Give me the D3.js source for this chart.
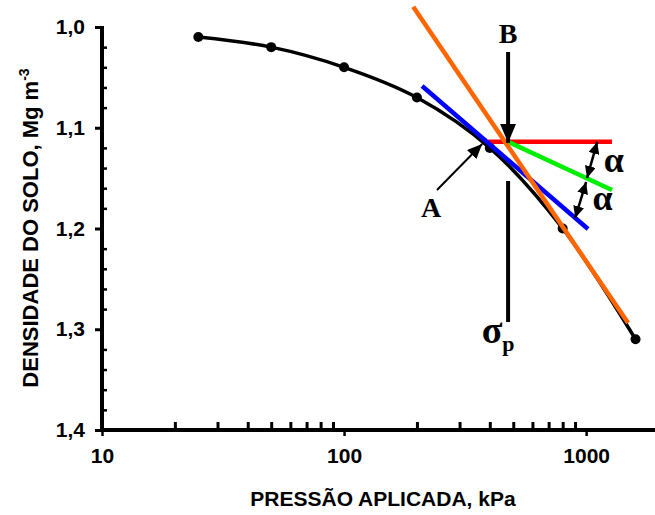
<!DOCTYPE html>
<html>
<head>
<meta charset="utf-8">
<script src="https://cdn.jsdelivr.net/npm/d3@7"></script>
<style>
  html, body { margin: 0; padding: 0; background: #fff; }
  svg { display: block; }
</style>
</head>
<body>
<svg id="chart" width="655" height="515"></svg>
<script>
// ---- data ----
const pressure = [25, 50, 100, 200, 400, 800, 1600];           // kPa
const density  = [1.01, 1.02, 1.04, 1.07, 1.12, 1.20, 1.31];    // Mg m-3
const xTickValues = [10, 100, 1000];
const xTickLabels = ["10", "100", "1000"];
const yTickValues = [1.0, 1.1, 1.2, 1.3, 1.4];
const yTickLabels = ["1,0", "1,1", "1,2", "1,3", "1,4"];
const sigmaP = 476;
const blueLine   = [[210, 1.0586], [1018, 1.2005]];
const orangeLine = [[193, 0.980], [1491, 1.2938]];
const redLine    = [[394, 1.114], [1279, 1.114]];
const greenLine  = [[476, 1.114], [1279, 1.1618]];
const bArrow     = [[476, 1.0248], [476, 1.115]];
const sigmaLine  = [[476, 1.1529], [476, 1.2928]];
const aArrow     = [[242, 1.1618], [372, 1.1161]];
const alpha1     = [[1111, 1.1141], [1009, 1.1499]];
const alpha2     = [[1000, 1.1538], [901, 1.1896]];
const labelB     = [476, 1.0159];
const labelA     = [229, 1.1886];
const labelSigma = [433, 1.3136];
const labelAlpha = [[1300, 1.1439], [1170, 1.1816]];

// ---- scales ----
const svg = d3.select("#chart");
const x = d3.scaleLog().domain([10, 2000]).range([102, 659]);
const y = d3.scaleLinear().domain([1.0, 1.4]).range([27, 430]);

const sans = "'Liberation Sans', Arial, sans-serif";
const serif = "'Liberation Serif', 'Times New Roman', serif";

// markers
const defs = svg.append("defs");
function marker(id, len, half) {
  defs.append("marker")
    .attr("id", id).attr("markerUnits", "userSpaceOnUse")
    .attr("viewBox", `0 ${-half} ${len} ${2*half}`)
    .attr("refX", len).attr("refY", 0)
    .attr("markerWidth", len).attr("markerHeight", 2*half)
    .attr("orient", "auto-start-reverse")
    .append("path").attr("d", `M0,${-half}L${len},0L0,${half}Z`).attr("fill", "#000");
}
marker("headB", 19, 8);
marker("headA", 15, 6.5);
marker("headAl", 12, 5.5);

// ---- axes ----
const xAxisMajor = d3.axisBottom(x).tickValues(xTickValues)
  .tickFormat((d, i) => xTickLabels[i]).tickSize(6).tickSizeOuter(0).tickPadding(12);
const minorX = [];
for (let dec = 10; dec < 1000; dec *= 10) for (let k = 2; k <= 9; k++) minorX.push(dec * k);
const gx = svg.append("g").attr("transform", `translate(0,${y(1.4)})`).call(xAxisMajor);
gx.select(".domain").remove();
gx.selectAll(".tick line").attr("stroke", "#000").attr("stroke-width", 2.5);
gx.selectAll(".tick text").attr("font-family", sans).attr("font-weight", "bold")
  .attr("font-size", 21).attr("fill", "#000");
const gxMinor = svg.append("g").attr("transform", `translate(0,${y(1.4)})`)
  .call(d3.axisTop(x).tickValues(minorX).tickFormat("").tickSize(8).tickSizeOuter(0));
gxMinor.select(".domain").remove();
gxMinor.selectAll(".tick line").attr("stroke", "#000").attr("stroke-width", 3);

const yAxisMajor = d3.axisLeft(y).tickValues(yTickValues)
  .tickFormat((d, i) => yTickLabels[i]).tickSize(7).tickSizeOuter(0).tickPadding(10);
const gy = svg.append("g").attr("transform", `translate(${x(10)},0)`).call(yAxisMajor);
gy.select(".domain").remove();
gy.selectAll(".tick line").attr("stroke", "#000").attr("stroke-width", 3);
gy.selectAll(".tick text").attr("font-family", sans).attr("font-weight", "bold")
  .attr("font-size", 21).attr("fill", "#000");
const minorY = d3.range(1.02, 1.4, 0.02).filter(v => Math.abs(v*10 - Math.round(v*10)) > 1e-6);
const gyMinor = svg.append("g").attr("transform", `translate(${x(10)},0)`)
  .call(d3.axisRight(y).tickValues(minorY).tickFormat("").tickSize(5).tickSizeOuter(0));
gyMinor.select(".domain").remove();
gyMinor.selectAll(".tick line").attr("stroke", "#000").attr("stroke-width", 2.5);

// axis lines
svg.append("line").attr("x1", x(10) - 2).attr("x2", 655).attr("y1", y(1.4)).attr("y2", y(1.4))
  .attr("stroke", "#000").attr("stroke-width", 4);
svg.append("line").attr("x1", x(10)).attr("x2", x(10)).attr("y1", y(1.0) - 1).attr("y2", y(1.4))
  .attr("stroke", "#000").attr("stroke-width", 4);

// axis titles
svg.append("text").attr("x", 383).attr("y", 506).attr("text-anchor", "middle")
  .attr("font-family", sans).attr("font-weight", "bold").attr("font-size", 21)
  .text("PRESSÃO APLICADA, kPa");
const yt = svg.append("text").attr("transform", "translate(38,228) rotate(-90)")
  .attr("text-anchor", "middle").attr("font-family", sans).attr("font-weight", "bold").attr("font-size", 22);
yt.append("tspan").text("DENSIDADE DO SOLO, Mg m");
yt.append("tspan").attr("font-size", 14).attr("dy", -9).text("-3");

// ---- curve ----
const pts = pressure.map((p, i) => [p, density[i]]);
const lineGen = d3.line().x(d => x(d[0])).y(d => y(d[1]));
svg.append("path").attr("d", lineGen.curve(d3.curveCatmullRom.alpha(0.5))(pts))
  .attr("fill", "none").attr("stroke", "#000").attr("stroke-width", 3.5);
svg.selectAll("circle.pt").data(pts).join("circle").attr("class", "pt")
  .attr("cx", d => x(d[0])).attr("cy", d => y(d[1])).attr("r", 5).attr("fill", "#000");

// ---- construction lines ----
const straight = d3.line().x(d => x(d[0])).y(d => y(d[1]));
function seg(data, color, w) {
  return svg.append("path").attr("d", straight(data)).attr("fill", "none")
    .attr("stroke", color).attr("stroke-width", w);
}
seg(redLine, "#ff0000", 4.5);
seg(greenLine, "#00ee00", 4.5);
seg(blueLine, "#0000ff", 4.5);
seg(orangeLine, "#ff6600", 4.5);
seg(bArrow, "#000", 4).attr("marker-end", "url(#headB)");
seg(sigmaLine, "#000", 4);
seg(aArrow, "#000", 2).attr("marker-end", "url(#headA)");
seg(alpha1, "#000", 2.5).attr("marker-start", "url(#headAl)").attr("marker-end", "url(#headAl)");
seg(alpha2, "#000", 2.5).attr("marker-start", "url(#headAl)").attr("marker-end", "url(#headAl)");

// ---- labels ----
function serifLabel(pos, txt, size) {
  return svg.append("text").attr("x", x(pos[0])).attr("y", y(pos[1]))
    .attr("text-anchor", "middle").attr("font-family", serif).attr("font-weight", "bold")
    .attr("font-size", size).text(txt);
}
serifLabel(labelB, "B", 28);
serifLabel(labelA, "A", 28);
labelAlpha.forEach(p => serifLabel(p, "α", 36));
const sg = svg.append("text").attr("x", x(labelSigma[0])).attr("y", y(labelSigma[1]))
  .attr("text-anchor", "middle").attr("font-family", serif).attr("font-weight", "bold").attr("font-size", 38);
sg.append("tspan").text("σ");
sg.append("tspan").attr("font-size", 22).attr("dy", 8).text("p");
</script>
</body>
</html>
